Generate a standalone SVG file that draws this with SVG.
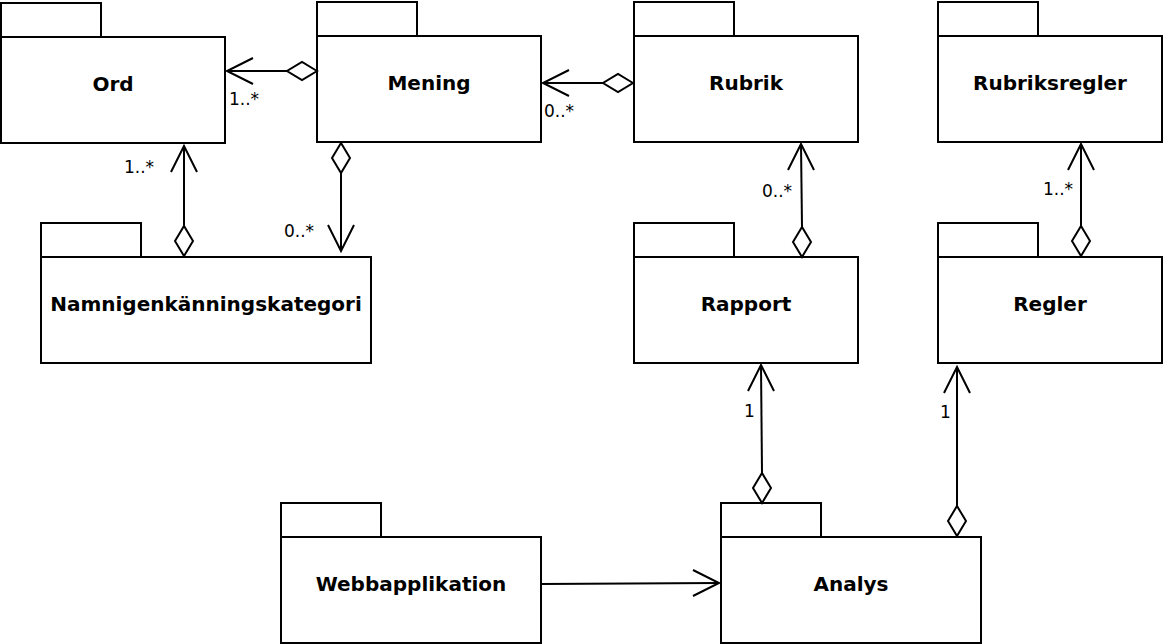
<svg xmlns="http://www.w3.org/2000/svg" width="1164" height="644" viewBox="0 0 1164 644">
<style>
.pk{fill:#fff;stroke:#000;stroke-width:2}
.nm{font-family:"DejaVu Sans",Verdana,sans-serif;font-weight:bold;font-size:20px;text-anchor:middle;fill:#000}
.ln{fill:none;stroke:#000;stroke-width:2}
.dm{fill:#fff;stroke:#000;stroke-width:2}
.ml{font-family:"DejaVu Sans",Verdana,sans-serif;font-size:17px;fill:#000}
</style>
<rect width="1164" height="644" fill="#fff"/>
<g id="Ord"><rect class="pk" x="1" y="3" width="100" height="34"/><rect class="pk" x="1" y="37" width="224" height="106"/><text class="nm" x="113" y="91">Ord</text></g>
<g id="Mening"><rect class="pk" x="317" y="2" width="100" height="34"/><rect class="pk" x="317" y="36" width="224" height="106"/><text class="nm" x="429" y="90">Mening</text></g>
<g id="Rubrik"><rect class="pk" x="634" y="2" width="100" height="34"/><rect class="pk" x="634" y="36" width="224" height="106"/><text class="nm" x="746" y="90">Rubrik</text></g>
<g id="Rubriksregler"><rect class="pk" x="938" y="2" width="100" height="34"/><rect class="pk" x="938" y="36" width="224" height="106"/><text class="nm" x="1050" y="90">Rubriksregler</text></g>
<g id="Namnigenkanningskategori"><rect class="pk" x="41" y="223" width="100" height="34"/><rect class="pk" x="41" y="257" width="330" height="106"/><text class="nm" x="206" y="311">Namnigenkänningskategori</text></g>
<g id="Rapport"><rect class="pk" x="634" y="223" width="100" height="34"/><rect class="pk" x="634" y="257" width="224" height="106"/><text class="nm" x="746" y="311">Rapport</text></g>
<g id="Regler"><rect class="pk" x="938" y="223" width="100" height="34"/><rect class="pk" x="938" y="257" width="224" height="106"/><text class="nm" x="1050" y="311">Regler</text></g>
<g id="Webbapplikation"><rect class="pk" x="281" y="503" width="100" height="34"/><rect class="pk" x="281" y="537" width="260" height="106"/><text class="nm" x="411" y="591">Webbapplikation</text></g>
<g id="Analys"><rect class="pk" x="721" y="503" width="100" height="34"/><rect class="pk" x="721" y="537" width="260" height="106"/><text class="nm" x="851" y="591">Analys</text></g>
<g id="connectors">
<line class="ln" x1="227" y1="71" x2="287" y2="71"/><polyline class="ln" points="253,58 227,71 253,84"/><polygon class="dm" points="317,71 302,62 287,71 302,80"/>
<line class="ln" x1="543" y1="83" x2="603" y2="83"/><polyline class="ln" points="569,70 543,83 569,96"/><polygon class="dm" points="633,83 618,74 603,83 618,92"/>
<line class="ln" x1="184" y1="146" x2="184" y2="226"/><polyline class="ln" points="171,172 184,146 197,172"/><polygon class="dm" points="184,256 175,241 184,226 193,241"/>
<line class="ln" x1="341" y1="173" x2="341" y2="251"/><polyline class="ln" points="328,225 341,251 354,225"/><polygon class="dm" points="341,143 332,158 341,173 350,158"/>
<line class="ln" x1="801" y1="144" x2="802" y2="227"/><polyline class="ln" points="788,170 801,144 814,170"/><polygon class="dm" points="802,257 793,242 802,227 811,242"/>
<line class="ln" x1="1081" y1="144" x2="1081" y2="226"/><polyline class="ln" points="1068,170 1081,144 1094,170"/><polygon class="dm" points="1081,256 1072,241 1081,226 1090,241"/>
<line class="ln" x1="761" y1="365" x2="762" y2="473"/><polyline class="ln" points="748,391 761,365 774,391"/><polygon class="dm" points="762,503 753,488 762,473 771,488"/>
<line class="ln" x1="957" y1="367" x2="957" y2="506"/><polyline class="ln" points="944,393 957,367 970,393"/><polygon class="dm" points="957,536 948,521 957,506 966,521"/>
<line class="ln" x1="541" y1="584" x2="719" y2="583"/><polyline class="ln" points="693,570 719,583 693,596"/>
<text class="ml" x="229" y="105">1..*</text>
<text class="ml" x="544" y="117">0..*</text>
<text class="ml" x="124" y="173">1..*</text>
<text class="ml" x="284" y="237">0..*</text>
<text class="ml" x="762" y="197">0..*</text>
<text class="ml" x="1043" y="195">1..*</text>
<text class="ml" x="744" y="417">1</text>
<text class="ml" x="940" y="418">1</text>
</g>
</svg>
